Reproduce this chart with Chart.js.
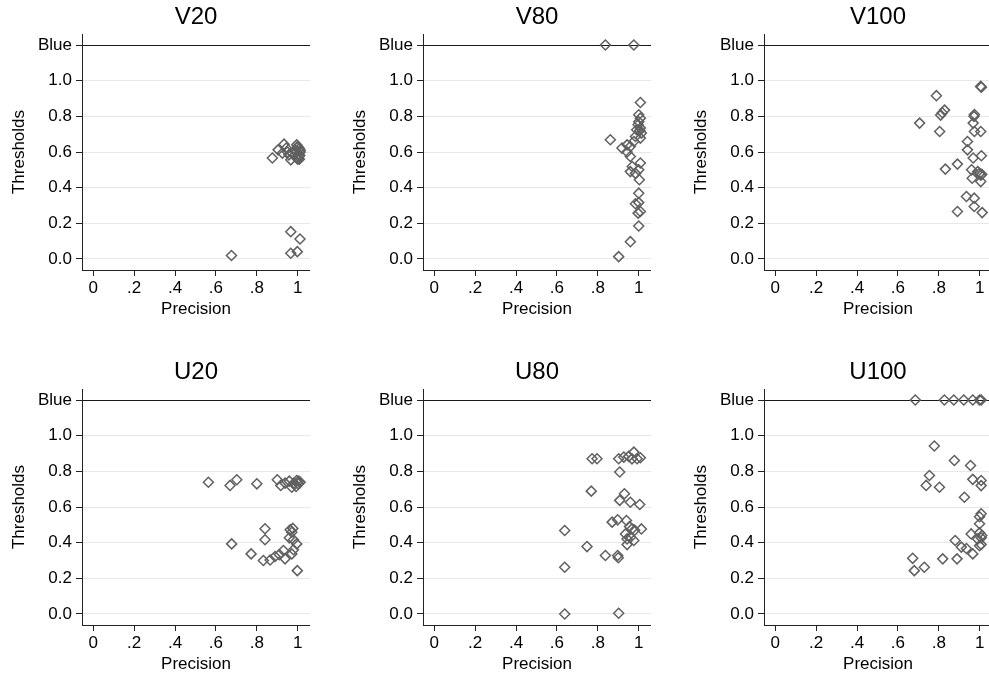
<!DOCTYPE html>
<html>
<head>
<meta charset="utf-8">
<script src="https://cdn.jsdelivr.net/npm/chart.js@4.4.9/dist/chart.umd.min.js"></script>
<style>
  html, body { margin: 0; padding: 0; background: #fff; overflow: hidden; }
  #wrap { position: relative; width: 989px; height: 675px; }
  .panel { position: absolute; width: 310px; height: 320px; }
</style>
</head>
<body>
<div id="wrap"></div>
<script>
const panelTitles = ["V20", "V80", "V100", "U20", "U80", "U100"];
const yTickValues = [0, 0.2, 0.4, 0.6, 0.8, 1.0, 1.2];
const xTickValues = [0, 0.2, 0.4, 0.6, 0.8, 1];

// precision (x) / threshold (y) per panel
const v20Precision = [0.676, 0.966, 1.011, 0.966, 0.998, 0.876, 0.933, 0.904, 0.925, 0.944, 0.966, 0.957, 0.995, 1.0, 1.008, 1.012, 0.995, 1.005, 1.01, 0.993, 1.0, 1.008, 1.012, 0.998, 1.006, 0.99, 0.95, 0.975];
const v20Threshold = [0.019, 0.153, 0.112, 0.032, 0.041, 0.566, 0.644, 0.612, 0.594, 0.622, 0.556, 0.584, 0.64, 0.63, 0.62, 0.61, 0.6, 0.59, 0.58, 0.57, 0.56, 0.56, 0.6, 0.625, 0.575, 0.61, 0.6, 0.59];

const v80Precision = [0.837, 0.976, 1.008, 1.0, 1.008, 0.997, 1.008, 0.99, 1.013, 1.008, 0.984, 0.861, 0.918, 0.943, 0.959, 0.976, 0.959, 0.943, 1.008, 0.968, 1.0, 0.959, 0.984, 1.003, 1.0, 1.0, 0.984, 1.008, 0.997, 1.0, 0.959, 0.902, 1.0, 1.005];
const v80Threshold = [1.2, 1.2, 0.878, 0.809, 0.79, 0.753, 0.734, 0.725, 0.706, 0.678, 0.687, 0.669, 0.622, 0.64, 0.631, 0.659, 0.575, 0.6, 0.538, 0.519, 0.5, 0.49, 0.48, 0.444, 0.369, 0.316, 0.31, 0.266, 0.257, 0.185, 0.097, 0.013, 0.77, 0.72];

const v100Precision = [1.005, 1.008, 0.788, 0.828, 0.817, 0.809, 0.706, 0.804, 0.974, 0.972, 0.968, 0.974, 1.005, 0.94, 0.94, 1.008, 0.968, 0.891, 0.832, 0.96, 0.99, 1.0, 1.01, 1.005, 0.963, 1.005, 0.935, 0.973, 0.891, 0.973, 1.012];
const v100Threshold = [0.968, 0.963, 0.916, 0.835, 0.82, 0.807, 0.762, 0.715, 0.81, 0.8, 0.762, 0.715, 0.715, 0.659, 0.612, 0.579, 0.566, 0.532, 0.504, 0.5, 0.49, 0.48, 0.475, 0.47, 0.453, 0.434, 0.35, 0.341, 0.266, 0.294, 0.26];

const u20Precision = [0.563, 0.669, 0.702, 0.8, 0.9, 0.917, 0.938, 0.959, 0.971, 0.982, 0.995, 1.003, 0.992, 1.012, 1.005, 0.677, 0.772, 0.84, 0.84, 0.832, 0.865, 0.889, 0.91, 0.93, 0.938, 0.963, 0.971, 0.976, 0.959, 0.979, 0.971, 0.995, 0.998, 0.979];
const u20Threshold = [0.739, 0.721, 0.753, 0.73, 0.753, 0.721, 0.734, 0.745, 0.711, 0.734, 0.749, 0.73, 0.715, 0.739, 0.745, 0.393, 0.337, 0.478, 0.416, 0.3, 0.303, 0.322, 0.333, 0.356, 0.309, 0.472, 0.458, 0.48, 0.427, 0.416, 0.337, 0.393, 0.243, 0.36];

const u80Precision = [0.772, 0.796, 0.902, 0.927, 0.951, 0.976, 0.992, 1.008, 0.967, 0.907, 0.768, 0.93, 0.907, 0.959, 1.005, 0.87, 0.897, 0.94, 0.955, 0.967, 0.935, 0.943, 0.96, 0.976, 0.943, 1.013, 0.98, 0.638, 0.747, 0.837, 0.897, 0.9, 0.638, 0.638, 0.902];
const u80Threshold = [0.871, 0.871, 0.871, 0.88, 0.884, 0.908, 0.871, 0.876, 0.87, 0.796, 0.689, 0.674, 0.637, 0.627, 0.614, 0.515, 0.528, 0.524, 0.49, 0.477, 0.449, 0.421, 0.43, 0.412, 0.389, 0.477, 0.47, 0.468, 0.378, 0.328, 0.328, 0.315, 0.262, 0.0, 0.004];

const u100Precision = [0.685, 0.827, 0.873, 0.922, 0.966, 0.999, 1.007, 0.778, 0.876, 0.955, 0.754, 0.738, 0.803, 0.966, 1.007, 1.007, 0.925, 1.007, 0.999, 0.999, 0.88, 0.91, 0.935, 0.958, 0.999, 1.007, 0.99, 1.007, 0.999, 0.966, 0.819, 0.889, 0.672, 0.68, 0.729, 1.01];
const u100Threshold = [1.2, 1.2, 1.2, 1.2, 1.2, 1.2, 1.2, 0.942, 0.861, 0.833, 0.777, 0.721, 0.711, 0.755, 0.749, 0.72, 0.655, 0.562, 0.545, 0.506, 0.412, 0.375, 0.367, 0.449, 0.455, 0.427, 0.42, 0.39, 0.383, 0.337, 0.309, 0.309, 0.312, 0.243, 0.262, 0.44];

const panelX = [v20Precision, v80Precision, v100Precision, u20Precision, u80Precision, u100Precision];
const panelY = [v20Threshold, v80Threshold, v100Threshold, u20Threshold, u80Threshold, u100Threshold];

const FONT = "'Liberation Sans', Arial, Helvetica, sans-serif";
const colLeft = [0, 341, 682];
const rowTop = [0, 355];

function yLabel(v) {
  if (Math.abs(v - 1.2) < 1e-6) return "Blue";
  return v.toFixed(1);
}
function xLabel(v) {
  const r = Math.round(v * 10) / 10;
  if (r === 0) return "0";
  if (r === 1) return "1";
  return String(r).replace("0.", ".");
}

// panel title centred over the plot area, not the whole canvas
const plotTitle = {
  id: "plotTitle",
  afterDraw(chart, args, opts) {
    const ctx = chart.ctx;
    const area = chart.chartArea;
    ctx.save();
    ctx.fillStyle = "#000";
    ctx.font = "24px " + FONT;
    ctx.textAlign = "center";
    ctx.textBaseline = "middle";
    ctx.fillText(opts.text, (area.left + area.right) / 2, 17);
    ctx.restore();
  },
};

function makePanel(i) {
  const div = document.createElement("div");
  div.className = "panel";
  div.style.left = colLeft[i % 3] + "px";
  div.style.top = rowTop[Math.floor(i / 3)] + "px";
  const canvas = document.createElement("canvas");
  canvas.width = 310;
  canvas.height = 320;
  div.appendChild(canvas);
  document.getElementById("wrap").appendChild(div);

  const points = panelX[i].map((x, k) => ({ x: x, y: panelY[i][k] }));

  new Chart(canvas, {
    type: "scatter",
    data: {
      datasets: [{
        data: points,
        pointStyle: "rectRot",
        pointRadius: 5,
        borderColor: "#606060",
        borderWidth: 1.5,
        backgroundColor: "rgba(0,0,0,0)",
      }],
    },
    plugins: [plotTitle],
    options: {
      responsive: false,
      animation: false,
      devicePixelRatio: 1,
      layout: { padding: { top: 34, left: 0, right: 0, bottom: 0 }, autoPadding: false },
      plugins: {
        legend: { display: false },
        tooltip: { enabled: false },
        title: { display: false },
        plotTitle: { text: panelTitles[i] },
      },
      scales: {
        x: {
          type: "linear",
          min: -0.055,
          max: 1.06,
          afterBuildTicks: (scale) => { scale.ticks = xTickValues.map((v) => ({ value: v })); },
          afterFit: (scale) => { scale.height = 50; },
          border: { color: "#222", width: 1 },
          grid: { drawOnChartArea: false, drawTicks: true, tickLength: 6, tickColor: "#222" },
          ticks: { callback: xLabel, color: "#000", padding: 2, maxRotation: 0, font: { family: FONT, size: 17 } },
          title: {
            display: true,
            text: "Precision",
            color: "#000",
            font: { family: FONT, size: 17 },
            padding: { top: 0, bottom: 0 },
          },
        },
        y: {
          type: "linear",
          min: -0.062,
          max: 1.262,
          afterBuildTicks: (scale) => { scale.ticks = yTickValues.map((v) => ({ value: v })); },
          afterFit: (scale) => { scale.width = 82; },
          border: { color: "#222", width: 1 },
          grid: {
            color: (ctx) => (ctx.tick && Math.abs(ctx.tick.value - 1.2) < 1e-6 ? "#1a1a1a" : "#e8e8e8"),
            lineWidth: 1,
            tickLength: 6,
            tickColor: "#222",
          },
          ticks: { callback: yLabel, color: "#000", padding: 4, font: { family: FONT, size: 17 } },
          title: {
            display: true,
            text: "Thresholds",
            color: "#000",
            font: { family: FONT, size: 17 },
            padding: { top: 9, bottom: 0 },
          },
        },
      },
    },
  });
}

for (let i = 0; i < 6; i++) makePanel(i);
</script>
</body>
</html>
